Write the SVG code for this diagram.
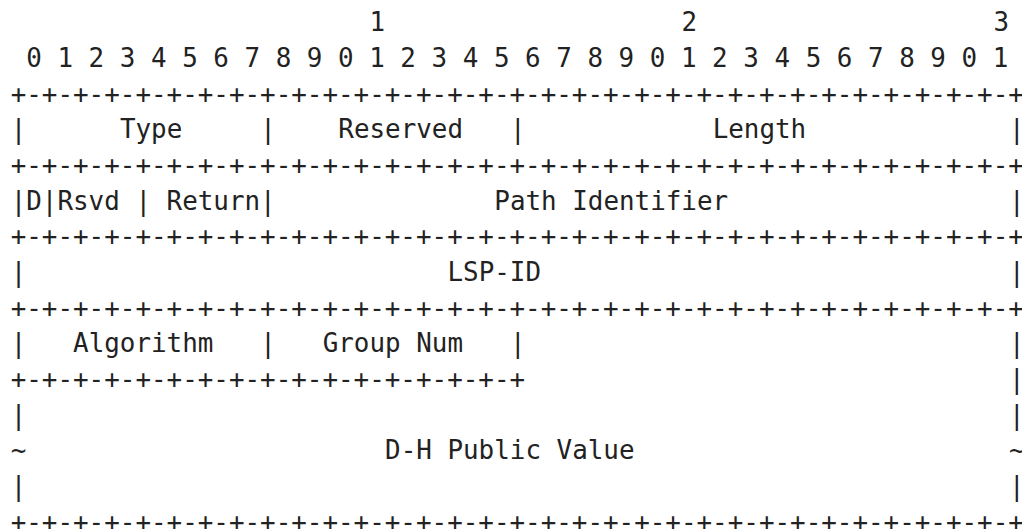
<svg xmlns="http://www.w3.org/2000/svg" width="1022" height="529" viewBox="0 0 1022 529">
<style>
text{font-family:"DejaVu Sans Mono","Liberation Mono",monospace;font-size:25.9px;fill:#222;white-space:pre}
</style>
<rect width="1022" height="529" fill="#fff"/>
<g id="ruler">
<text x="369.5" y="31.3">1</text>
<text x="681.5" y="31.3">2</text>
<text x="993.5" y="31.3">3</text>
<text x="10.7" y="67" xml:space="preserve"> 0 1 2 3 4 5 6 7 8 9 0 1 2 3 4 5 6 7 8 9 0 1 2 3 4 5 6 7 8 9 0 1</text>
</g>
<g id="connectors">
<text x="10.7" y="102.6">+-+-+-+-+-+-+-+-+-+-+-+-+-+-+-+-+-+-+-+-+-+-+-+-+-+-+-+-+-+-+-+-+</text>
<text x="10.7" y="174">+-+-+-+-+-+-+-+-+-+-+-+-+-+-+-+-+-+-+-+-+-+-+-+-+-+-+-+-+-+-+-+-+</text>
<text x="10.7" y="245.3">+-+-+-+-+-+-+-+-+-+-+-+-+-+-+-+-+-+-+-+-+-+-+-+-+-+-+-+-+-+-+-+-+</text>
<text x="10.7" y="316.7">+-+-+-+-+-+-+-+-+-+-+-+-+-+-+-+-+-+-+-+-+-+-+-+-+-+-+-+-+-+-+-+-+</text>
<text x="10.7" y="388">+-+-+-+-+-+-+-+-+-+-+-+-+-+-+-+-+</text>
<text x="10.7" y="530.7">+-+-+-+-+-+-+-+-+-+-+-+-+-+-+-+-+-+-+-+-+-+-+-+-+-+-+-+-+-+-+-+-+</text>
</g>
<g id="row-type">
<text x="10.7" y="138.3">|</text>
<text x="119.9" y="138.3">Type</text>
<text x="260.3" y="138.3">|</text>
<text x="338.3" y="138.3">Reserved</text>
<text x="509.9" y="138.3">|</text>
<text x="712.7" y="138.3">Length</text>
<text x="1009.1" y="138.3">|</text>
</g>
<g id="row-path">
<text x="10.7" y="209.7">|D|Rsvd | Return|</text>
<text x="494.3" y="209.7">Path Identifier</text>
<text x="1009.1" y="209.7">|</text>
</g>
<g id="row-lsp">
<text x="10.7" y="281">|</text>
<text x="447.5" y="281">LSP-ID</text>
<text x="1009.1" y="281">|</text>
</g>
<g id="row-algorithm">
<text x="10.7" y="352.3">|</text>
<text x="73.1" y="352.3">Algorithm</text>
<text x="260.3" y="352.3">|</text>
<text x="322.7" y="352.3">Group Num</text>
<text x="509.9" y="352.3">|</text>
<text x="1009.1" y="352.3">|</text>
<text x="1009.1" y="388">|</text>
</g>
<g id="row-dh">
<text x="10.7" y="423.7">|</text>
<text x="1009.1" y="423.7">|</text>
<text x="10.7" y="459.3">~</text>
<text x="385.1" y="459.3">D-H Public Value</text>
<text x="1009.1" y="459.3">~</text>
<text x="10.7" y="495">|</text>
<text x="1009.1" y="495">|</text>
</g>
</svg>
